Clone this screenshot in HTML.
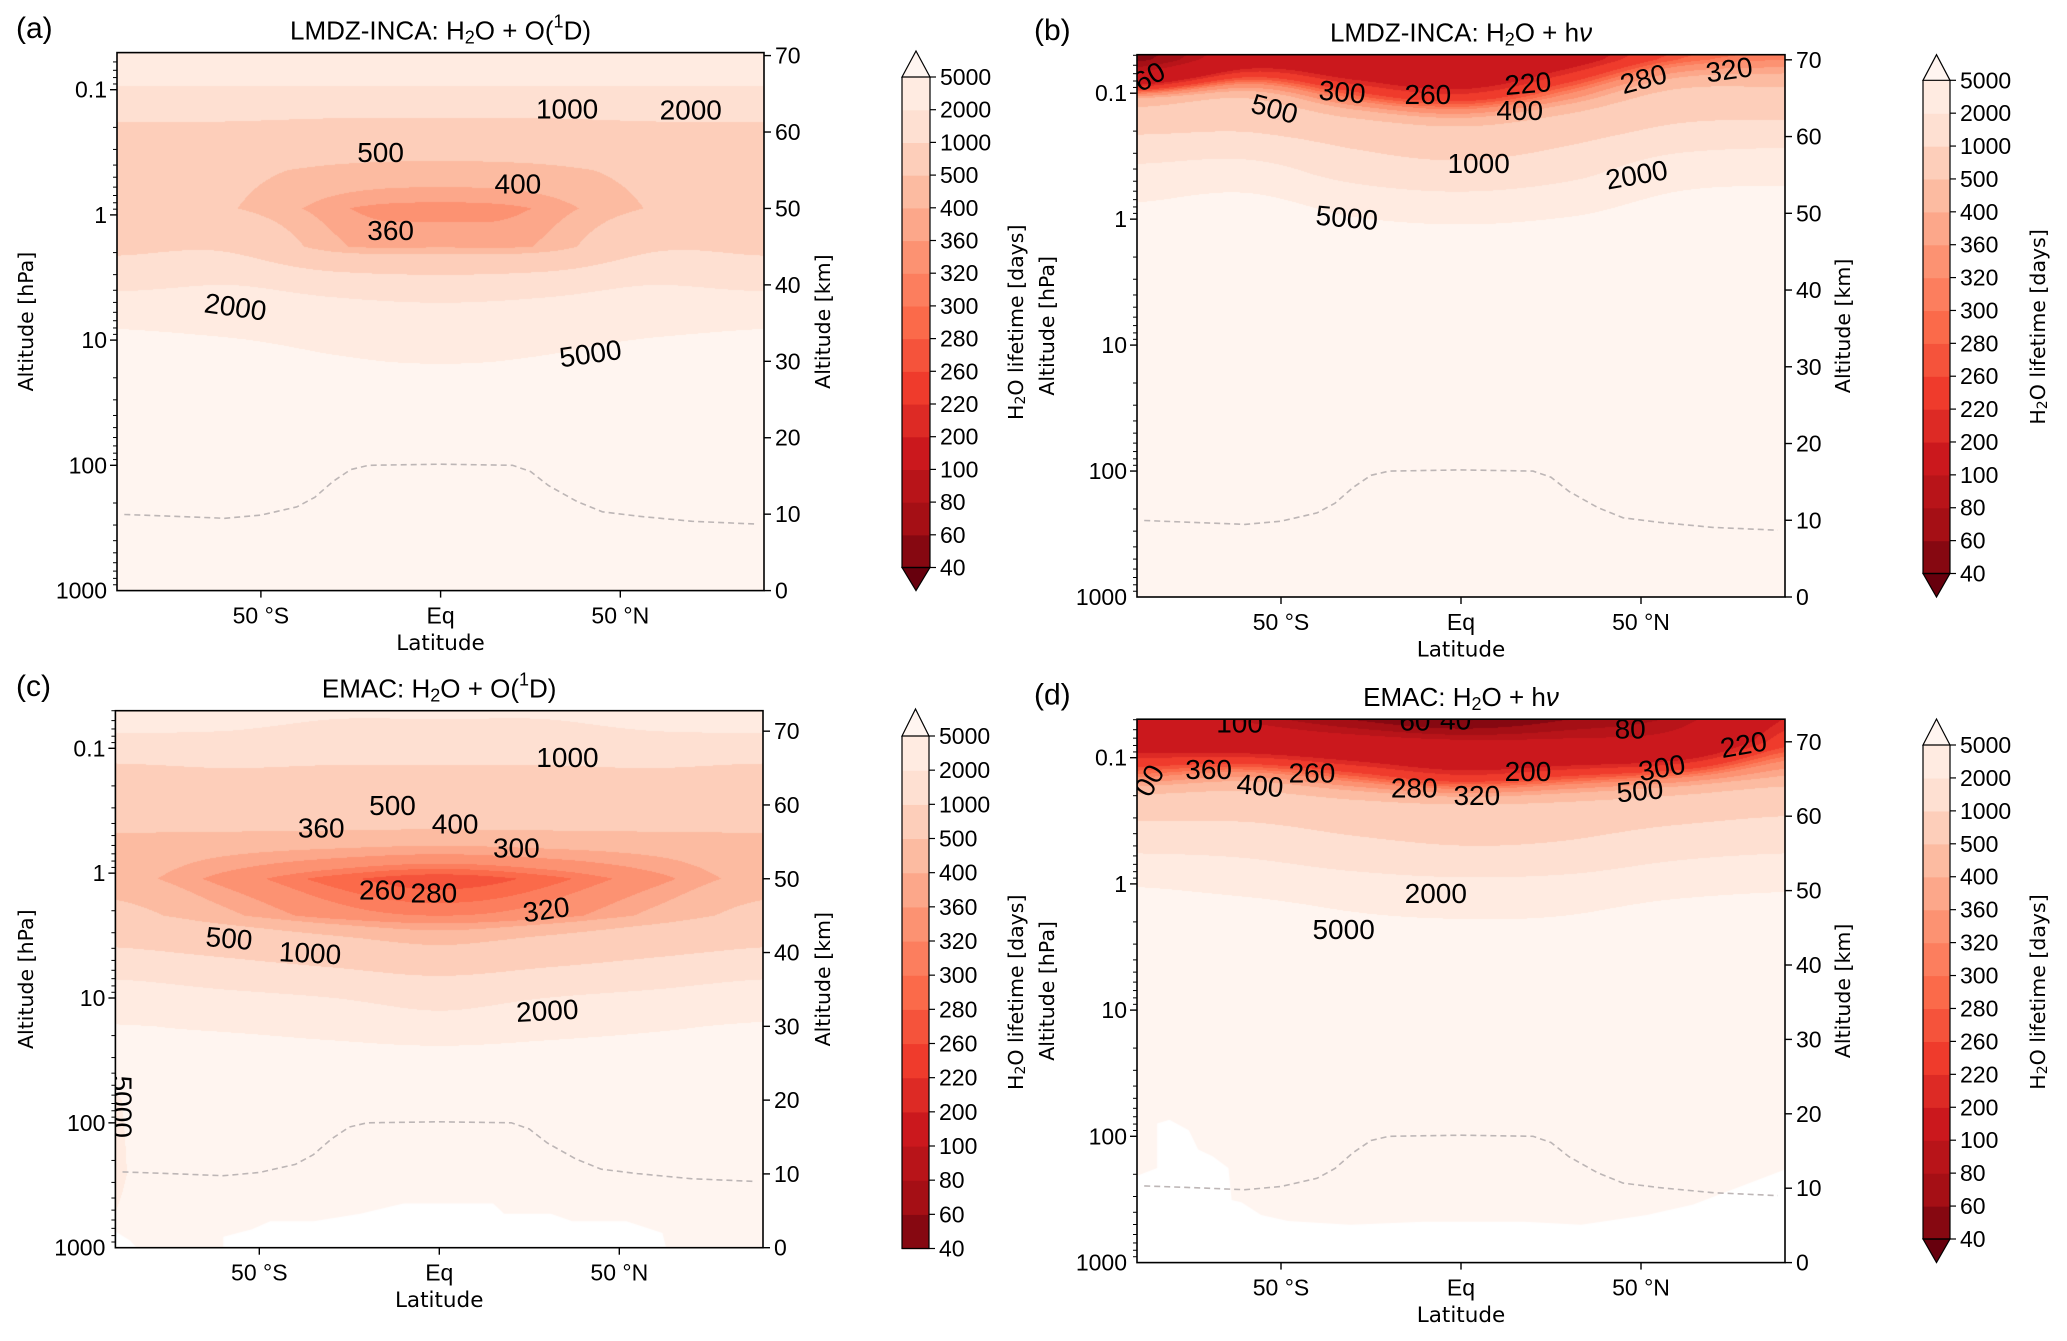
<!DOCTYPE html>
<html><head><meta charset="utf-8">
<style>
html,body{margin:0;padding:0;background:#fff;}
#root{position:relative;width:2067px;height:1341px;overflow:hidden;background:#fff;}
canvas{position:absolute;}
svg{position:absolute;left:0;top:0;}
</style></head>
<body>
<div id="root">
<svg id="ov" width="2067" height="1341" viewBox="0 0 2067 1341"></svg>
</div>
<script>
// ---------- data ----------
const levels = [40,60,80,100,200,220,260,280,300,320,360,400,500,1000,2000,5000];
const gridLats = [-90,-60,-30,0,30,60,90];
const gridKm = [0,10,20,25,30,35,40,45,50,55,60,65,70,75];
const aVals = [
 [20000,20000,20000,20000,20000,20000,20000],
 [20000,20000,20000,20000,20000,20000,20000],
 [15000,15000,15000,15000,15000,15000,15000],
 [12000,12000,9000,9000,9000,12000,12000],
 [9000,8000,5500,4800,5500,8000,9000],
 [4500,3800,3200,3000,3200,3800,4500],
 [1700,2000,1600,1400,1600,2000,1700],
 [850,900,420,390,420,900,850],
 [700,520,370,345,370,520,700],
 [700,560,470,450,470,560,700],
 [800,800,720,700,720,800,800],
 [1800,1800,1800,1800,1800,1800,1800],
 [3000,3000,3000,3000,3000,3000,3000],
 [4000,4000,4000,4000,4000,4000,4000]];
const bVals = [
 [20000,20000,20000,20000,20000,20000,20000],
 [20000,20000,20000,20000,20000,20000,20000],
 [20000,20000,20000,20000,20000,20000,20000],
 [20000,20000,20000,20000,20000,20000,20000],
 [20000,20000,20000,20000,20000,20000,20000],
 [20000,20000,20000,20000,20000,20000,20000],
 [20000,20000,20000,20000,20000,20000,20000],
 [20000,20000,14000,12000,14000,20000,20000],
 [6500,9000,4500,3500,4500,8000,9000],
 [2600,3000,1600,1300,1700,3500,4000],
 [1050,1100,800,650,850,1300,1500],
 [400,500,300,240,350,600,600],
 [55,150,130,110,170,280,320],
 [35,60,80,60,120,200,250]];
const cVals = [
 [5500,20000,20000,20000,20000,20000,20000],
 [4500,20000,20000,20000,20000,20000,20000],
 [4800,15000,15000,15000,15000,15000,15000],
 [6000,9000,9000,9000,9000,9000,9000],
 [5200,4500,3500,2600,3500,4500,5500],
 [2500,2000,1700,1400,1700,2000,2500],
 [1100,900,700,560,700,900,1100],
 [560,420,340,320,340,420,560],
 [430,345,290,265,290,345,430],
 [460,440,430,420,430,440,460],
 [650,700,700,700,700,700,650],
 [900,1000,950,950,950,1000,900],
 [2100,2000,1800,1800,1800,2000,2100],
 [3000,3000,2500,2500,2500,3000,3000]];
const dVals = [
 [20000,20000,20000,20000,20000,20000,20000],
 [20000,20000,20000,20000,20000,20000,20000],
 [20000,20000,20000,20000,20000,20000,20000],
 [20000,20000,20000,20000,20000,20000,20000],
 [20000,20000,20000,20000,20000,20000,20000],
 [20000,20000,20000,20000,20000,20000,20000],
 [20000,20000,20000,20000,20000,20000,20000],
 [15000,12000,7000,6000,6500,11000,14000],
 [5500,4200,3200,2800,3000,4000,4800],
 [2000,1800,1300,1100,1200,1700,2000],
 [900,900,750,700,720,850,1000],
 [330,380,300,240,280,330,420],
 [160,150,130,110,110,120,240],
 [110,70,35,20,40,70,180]];
const tpLat = [-88,-75,-60,-50,-40,-35,-30,-25,-20,0,20,25,30,38,45,55,70,88];
const tpP = [247,255,265,250,215,180,135,108,100,98,100,112,145,195,235,255,280,295];
const cMask = [[-60,0],[-60,1.5],[-52,2.5],[-47,3.6],[-35,3.6],[-22,4.6],[-10,6],[15,6],[18,4.6],[31,4.6],[37,3.6],[52,3.6],[62,2],[63,0]];
const cMask2 = [[-91,0],[-91,2.5],[-86,1],[-84,0]];
const dMask = [[-91,0],[-91,11.5],[-84.4,12.7],[-84.4,18.7],[-81,19.2],[-75.6,17.8],[-73,15.2],[-69,14.3],[-64.6,12.7],[-63.7,8.4],[-61,8.1],[-55.5,6.4],[-48,5.6],[-30.8,5.1],[-10.6,5.5],[17.8,5.5],[33.3,5.1],[51.6,6.4],[64.5,7.8],[91,12.7],[91,0]];
const aLabels = [[35.2,63.0,'1000',0],[69.6,62.9,'2000',0],[-16.7,57.3,'500',0],[21.5,53.2,'400',0],[-13.9,47.1,'360',0],[-57.1,37.1,'2000',8],[41.7,31.0,'5000',-8]];
const bLabels = [[-86.6,67.8,'60',-30],[-51.8,63.6,'500',15],[-33,65.8,'300',5],[-9.2,65.5,'260',0],[18.6,66.9,'220',-5],[16.3,63.4,'400',0],[50.7,67.5,'280',-15],[74.5,68.7,'320',-8],[4.9,56.5,'1000',0],[48.8,55.0,'2000',-10],[-31.7,49.4,'5000',5]];
const cLabels = [[35.6,66.4,'1000',0],[-13,59.9,'500',0],[-32.8,56.9,'360',0],[4.4,57.4,'400',0],[21.4,54.2,'300',0],[-15.8,48.5,'260',0],[-1.5,48.1,'280',0],[29.7,45.8,'320',-8],[-58.4,41.9,'500',5],[-35.9,39.9,'1000',3],[30,32.1,'2000',-3],[-88.1,19.1,'5000',90]];
const dLabels = [[-61.5,72.5,'100',0],[-12.8,72.8,'60',0],[-1.5,72.9,'40',0],[47,71.7,'80',0],[78.5,69.6,'220',-10],[-86.6,64.8,'00',-60],[-70.1,66.3,'360',0],[-55.8,64.1,'400',5],[-41.4,65.8,'260',0],[-13,63.8,'280',0],[4.4,62.8,'320',0],[18.6,66.0,'200',0],[55.8,66.5,'300',-10],[49.7,63.4,'500',-5],[-7,49.6,'2000',0],[-32.6,44.8,'5000',0]];
const latTicks = [-50,0,50];
const latTickLabels = ['50 °S','Eq','50 °N'];
const kmTicks = [0,10,20,30,40,50,60,70];
const pMajor = [0.1,1,10,100,1000];

// ---------- helpers ----------
const reds = ['#fff5f0','#fee0d2','#fcbba1','#fc9272','#fb6a4a','#ef3b2c','#cb181d','#a50f15','#67000d'];
function hex(c){return [parseInt(c.substr(1,2),16),parseInt(c.substr(3,2),16),parseInt(c.substr(5,2),16)];}
const redsRGB = reds.map(hex);
function redsAt(s){s=Math.max(0,Math.min(1,s));const f=s*8;const i=Math.min(7,Math.floor(f));const t=f-i;
 const a=redsRGB[i],b=redsRGB[i+1];return [0,1,2].map(k=>Math.round(a[k]+(b[k]-a[k])*t));}
function bandColor(k){return redsAt(1-(k+1)/16);}
function rgbStr(c){return 'rgb('+c[0]+','+c[1]+','+c[2]+')';}
function bandOf(v){if(v<levels[0])return -1;for(let i=0;i<levels.length-1;i++){if(v<levels[i+1])return i;}return 15;}
function cubicRow(row,lat){
 const n=gridLats.length;const f=(lat+90)/30;let i=Math.min(n-2,Math.floor(f));const t=f-i;
 const g=k=>Math.log(row[Math.max(0,Math.min(n-1,k))]);
 const p0=g(i-1),p1=g(i),p2=g(i+1),p3=g(i+2);
 const t2=t*t,t3=t2*t;
 let v=0.5*((2*p1)+(-p0+p2)*t+(2*p0-5*p1+4*p2-p3)*t2+(-p0+3*p1-3*p2+p3)*t3);
 const lo=Math.min(p1,p2),hi=Math.max(p1,p2);
 return Math.max(lo-0.15,Math.min(hi+0.15,v));
}
function field(vals,lat,km){
 lat=Math.max(-90,Math.min(90,lat));km=Math.max(0,Math.min(75,km));
 let j=0;while(j<gridKm.length-2&&km>gridKm[j+1])j++;
 const ty=(km-gridKm[j])/(gridKm[j+1]-gridKm[j]);
 return Math.exp((1-ty)*cubicRow(vals[j],lat)+ty*cubicRow(vals[j+1],lat));
}
const NS='http://www.w3.org/2000/svg';
const ov=document.getElementById('ov');
function el(tag,attrs,parent){const e=document.createElementNS(NS,tag);for(const k in attrs)e.setAttribute(k,attrs[k]);(parent||ov).appendChild(e);return e;}

const panels=[
 {id:'a',L:117,R:764,T:52.6,B:590.6,p01:89.7,dec:125.2,km0:590.6,kmPx:7.643,eq:440.6,dpx:3.594,vals:aVals,labels:aLabels,masks:[],
  cb:{x:902,w:28,top:77,bot:567.5,tipT:51,tipB:590.6,lx:1016},title:'LMDZ-INCA: ',kind:'o1d',letter:'(a)',lX:16,yLeftLab:26,yRightLab:823},
 {id:'b',L:1137,R:1785,T:54.7,B:597,p01:93.2,dec:125.95,km0:597,kmPx:7.674,eq:1461,dpx:3.6,vals:bVals,labels:bLabels,masks:[],
  cb:{x:1923,w:27,top:80.3,bot:573.5,tipT:54.7,tipB:597,lx:2038},title:'LMDZ-INCA: ',kind:'hv',letter:'(b)',lX:1034,yLeftLab:1047,yRightLab:1843},
 {id:'c',L:115.4,R:763,T:710.7,B:1247.7,p01:748.3,dec:124.85,km0:1247.7,kmPx:7.379,eq:439.3,dpx:3.6,vals:cVals,labels:cLabels,masks:[cMask,cMask2],
  cb:{x:902,w:27,top:736,bot:1248.5,tipT:709,tipB:null,lx:1016},title:'EMAC: ',kind:'o1d',letter:'(c)',lX:16,yLeftLab:26,yRightLab:823},
 {id:'d',L:1137,R:1785,T:719.2,B:1262.6,p01:757.7,dec:126.2,km0:1262.6,kmPx:7.44,eq:1461,dpx:3.6,vals:dVals,labels:dLabels,masks:[dMask],
  cb:{x:1923,w:27,top:745,bot:1239,tipT:719,tipB:1262.6,lx:2038},title:'EMAC: ',kind:'hv',letter:'(d)',lX:1034,yLeftLab:1047,yRightLab:1843}
];
const root=document.getElementById('root');
const TF='"Liberation Sans", "DejaVu Sans", sans-serif';
const LF='"DejaVu Sans", "Liberation Sans", sans-serif';

panels.forEach(P=>{
 const xL=lat=>P.eq+lat*P.dpx;
 const yK=km=>P.km0-km*P.kmPx;
 const yP=p=>P.p01+(Math.log10(p)+1)*P.dec;
 const cx0=Math.floor(P.L),cy0=Math.floor(P.T),cw=Math.ceil(P.R-cx0),ch=Math.ceil(P.B-cy0);
 const cv=document.createElement('canvas');
 cv.width=cw;cv.height=ch;cv.style.left=cx0+'px';cv.style.top=cy0+'px';
 
 
 root.insertBefore(cv,ov);
 const ctx=cv.getContext('2d');const img=ctx.createImageData(cw,ch);
 const cache={};
 for(let j=0;j<ch;j++){const km=(P.km0-(cy0+j+0.5))/P.kmPx;
  for(let i=0;i<cw;i++){const lat=(cx0+i+0.5-P.eq)/P.dpx;
   const k=bandOf(field(P.vals,lat,km));const c=cache[k]||(cache[k]=bandColor(k));
   const o=(j*cw+i)*4;img.data[o]=c[0];img.data[o+1]=c[1];img.data[o+2]=c[2];img.data[o+3]=255;}}
 ctx.putImageData(img,0,0);
 ctx.fillStyle='#fff';
 P.masks.forEach(m=>{ctx.beginPath();m.forEach((pt,n)=>{const x=xL(pt[0])-cx0,y=yK(pt[1])-cy0;n?ctx.lineTo(x,y):ctx.moveTo(x,y);});ctx.closePath();ctx.fill();});

 const g=el('g',{});
 
 
 const cp=el('clipPath',{id:'clip'+P.id},g);el('rect',{x:P.L,y:P.T,width:P.R-P.L,height:P.B-P.T},cp);
 const tp=el('polyline',{points:tpLat.map((la,n)=>xL(la).toFixed(1)+','+yP(tpP[n]).toFixed(1)).join(' '),fill:'none',stroke:'#bdb6b6','stroke-width':1.6,'stroke-dasharray':'6,4','clip-path':'url(#clip'+P.id+')'},g);
 
 
 const lg=el('g',{'clip-path':'url(#clip'+P.id+')'},g);
 P.labels.forEach(lb=>{const x=xL(lb[0]),y=yK(lb[1]);
  const t=el('text',{x:x,y:y,'text-anchor':'middle','dominant-baseline':'central','font-family':TF,'font-size':28,fill:'#000',transform:'rotate('+(lb[3])+' '+x+' '+y+')'},lg);
  t.textContent=lb[2];
  
  });
 const fr=el('rect',{x:P.L,y:P.T,width:P.R-P.L,height:P.B-P.T,fill:'none',stroke:'#000','stroke-width':1.6},g);
 
 
 const pTop=Math.pow(10,-1-(P.p01-P.T)/P.dec);
 for(let e=-2;e<=2;e++){for(let m=1;m<=9;m++){const p=m*Math.pow(10,e);if(p<pTop||p>1000.01)continue;const y=yP(p);
   el('line',{x1:P.L,x2:P.L-(m===1?7:4),y1:y,y2:y,stroke:'#000','stroke-width':m===1?1.4:1},g);}}
 pMajor.forEach(p=>{const y=yP(p);const t=el('text',{x:P.L-10,y:y,'text-anchor':'end','dominant-baseline':'central','font-family':TF,'font-size':23},g);t.textContent=String(p);
  
  });
 kmTicks.forEach(k=>{const y=yK(k);el('line',{x1:P.R,x2:P.R+7,y1:y,y2:y,stroke:'#000','stroke-width':1.4},g);
  const t=el('text',{x:P.R+11,y:y,'dominant-baseline':'central','font-family':TF,'font-size':23},g);t.textContent=String(k);
  
  });
 latTicks.forEach((la,n)=>{const x=xL(la);el('line',{x1:x,x2:x,y1:P.B,y2:P.B+7,stroke:'#000','stroke-width':1.4},g);
  const t=el('text',{x:x,y:P.B+25,'text-anchor':'middle','dominant-baseline':'central','font-family':TF,'font-size':23},g);t.textContent=latTickLabels[n];
  
  });
 const xl=el('text',{x:(P.L+P.R)/2,y:P.B+53,'text-anchor':'middle','dominant-baseline':'central','font-family':LF,'font-size':21.5},g);xl.textContent='Latitude';
 
 
 const ym=(P.T+P.B)/2;
 const yl=el('text',{x:P.yLeftLab,y:ym,'text-anchor':'middle','dominant-baseline':'central','font-family':LF,'font-size':20.5,transform:'rotate(-90 '+P.yLeftLab+' '+ym+')'},g);yl.textContent='Altitude [hPa]';
 
 
 const yr=el('text',{x:P.yRightLab,y:ym,'text-anchor':'middle','dominant-baseline':'central','font-family':LF,'font-size':20.5,transform:'rotate(-90 '+P.yRightLab+' '+ym+')'},g);yr.textContent='Altitude [km]';
 
 
 const tt=el('text',{x:(P.L+P.R)/2,y:P.T-22,'text-anchor':'middle','dominant-baseline':'central','font-family':TF,'font-size':26},g);
 
 
 if(P.kind==='o1d'){tt.innerHTML=P.title+'H<tspan font-size="18" dy="7">2</tspan><tspan dy="-7">O + O(</tspan><tspan font-size="18" dy="-9">1</tspan><tspan dy="9">D)</tspan>';}
 else{tt.innerHTML=P.title+'H<tspan font-size="18" dy="7">2</tspan><tspan dy="-7">O + h</tspan><tspan font-style="italic">ν</tspan>';}
 const lt=el('text',{x:P.lX,y:P.T-24,'dominant-baseline':'central','font-family':TF,'font-size':30},g);lt.textContent=P.letter;
 
 
 const C=P.cb;const cg=el('g',{},g);
 
 
 const nb=levels.length-1;const seg=(C.bot-C.top)/nb;
 for(let k=0;k<nb;k++){const y=C.bot-(k+1)*seg;el('rect',{x:C.x,y:y,width:C.w,height:seg+0.6,fill:rgbStr(bandColor(k))},cg);}
 el('polygon',{points:C.x+','+C.top+' '+(C.x+C.w/2)+','+C.tipT+' '+(C.x+C.w)+','+C.top,fill:rgbStr(bandColor(15)),stroke:'#000','stroke-width':1.2},cg);
 if(C.tipB){el('polygon',{points:C.x+','+C.bot+' '+(C.x+C.w/2)+','+C.tipB+' '+(C.x+C.w)+','+C.bot,fill:rgbStr(bandColor(-1)),stroke:'#000','stroke-width':1.2},cg);}
 el('polyline',{points:C.x+','+C.top+' '+C.x+','+C.bot+' '+(C.x+C.w)+','+C.bot+' '+(C.x+C.w)+','+C.top,fill:'none',stroke:'#000','stroke-width':1.2},cg);
 levels.forEach((lv,k)=>{const y=C.bot-k*seg;el('line',{x1:C.x+C.w,x2:C.x+C.w+6,y1:y,y2:y,stroke:'#000','stroke-width':1.2},cg);
  const t=el('text',{x:C.x+C.w+10,y:y,'dominant-baseline':'central','font-family':TF,'font-size':23},cg);t.textContent=String(lv);
  
  });
 const cm=(C.top+C.bot)/2;
 const cl=el('text',{x:C.lx,y:cm,'text-anchor':'middle','dominant-baseline':'central','font-family':LF,'font-size':20.5,transform:'rotate(-90 '+C.lx+' '+cm+')'},cg);
 cl.innerHTML='H<tspan font-size="14" dy="5">2</tspan><tspan dy="-5">O lifetime [days]</tspan>';
 
 
});
</script>
</body></html>
